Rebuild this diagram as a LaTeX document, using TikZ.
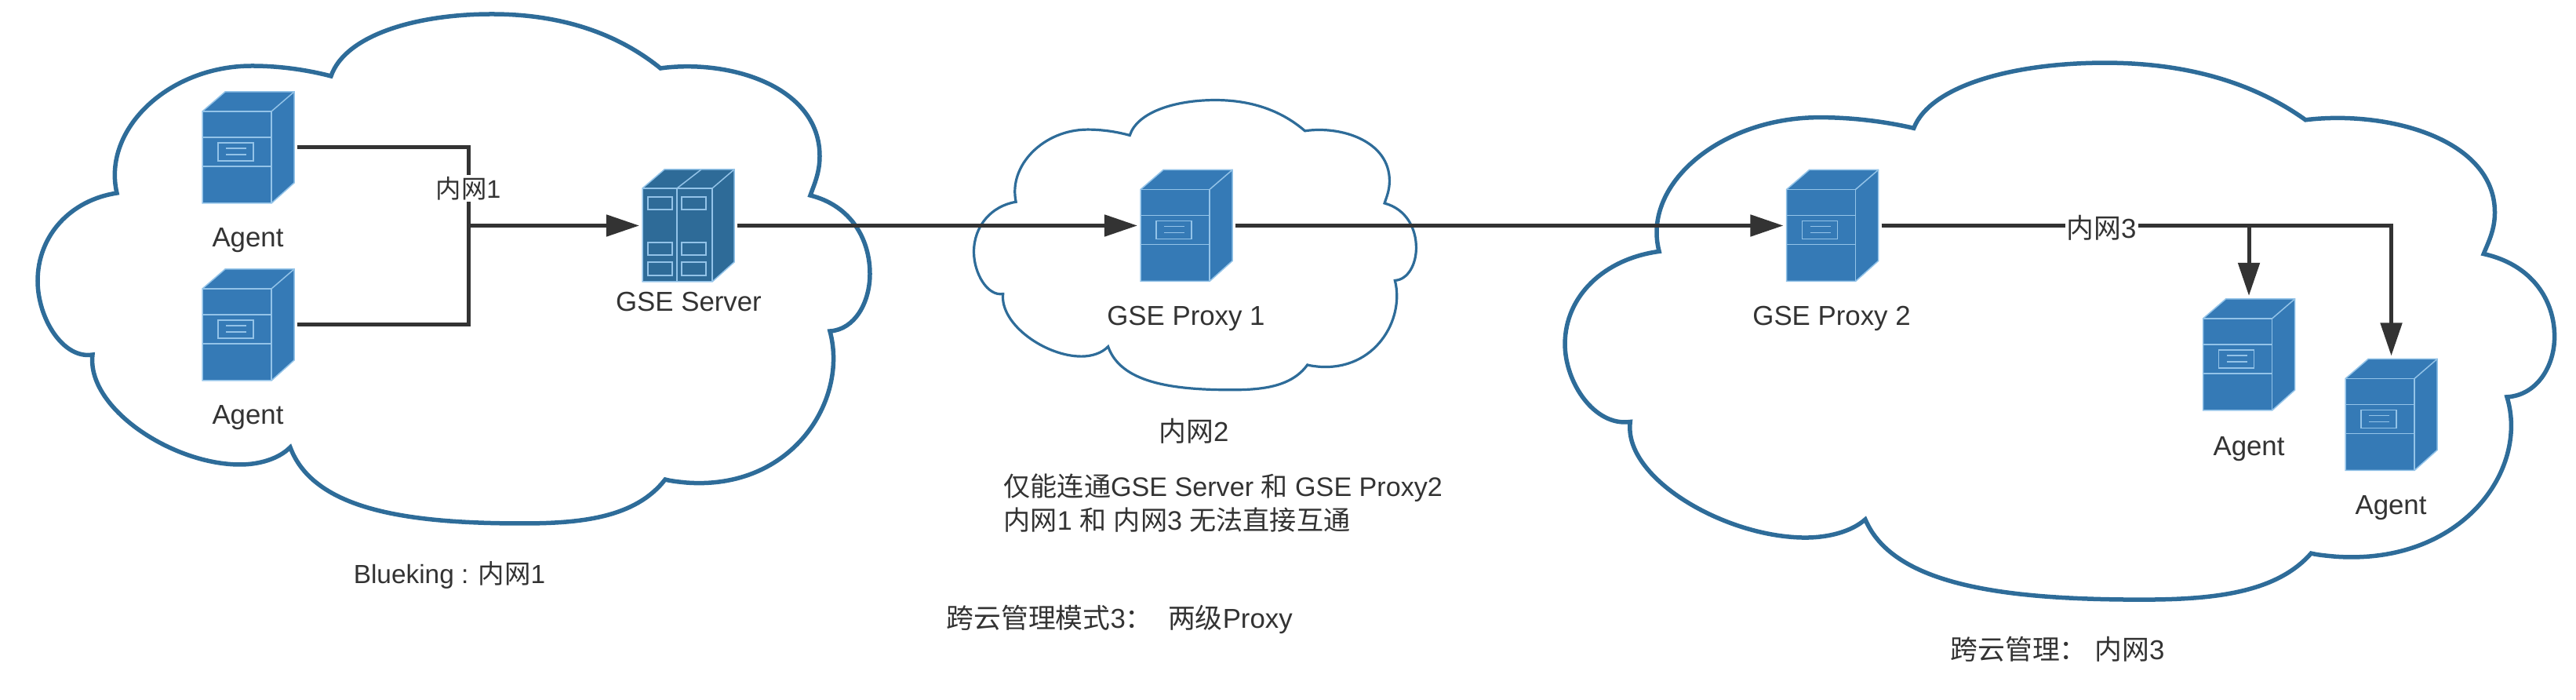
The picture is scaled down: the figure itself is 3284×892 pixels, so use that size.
\documentclass[tikz,border=0pt]{standalone}
\usepackage{fontspec}
\setmainfont{Liberation Sans}
\newfontfamily\cjk{Noto Sans CJK SC}
\usetikzlibrary{arrows.meta}

\definecolor{cloudblue}{HTML}{2E6C99}
\definecolor{agentblue}{HTML}{357AB6}
\definecolor{gseblue}{HTML}{2E6B98}
\definecolor{edgeblue}{HTML}{93C3E8}
\definecolor{wiregray}{HTML}{333333}

\newcommand{\cloudoutline}[1]{
 \draw[cloudline,#1] (422,97)
  .. controls (440,45) and (530,18) .. (627,18)
  .. controls (720,18) and (790,45) .. (842,87)
  .. controls (930,75) and (1045,110) .. (1045,199)
  .. controls (1045,220) and (1038,235) .. (1033,249)
  .. controls (1085,262) and (1109,305) .. (1109,349)
  .. controls (1109,385) and (1090,420) .. (1058,422)
  .. controls (1082,510) and (1010,625) .. (875,615)
  .. controls (865,614) and (855,613) .. (848,611)
  .. controls (810,660) and (740,667) .. (666,667)
  .. controls (520,667) and (400,650) .. (370,570)
  .. controls (355,585) and (330,592) .. (306,592)
  .. controls (220,592) and (110,520) .. (118,452)
  .. controls (80,458) and (48,405) .. (48,358)
  .. controls (48,300) and (90,255) .. (149,246)
  .. controls (130,165) and (215,84) .. (321,84)
  .. controls (360,84) and (395,90) .. (422,97) -- cycle;
}

\newcommand{\agentnode}[2]{
 \node[agentbox] (#1) at (#2) {};
 \begin{scope}[shift={(#2)},shift={(-58.5,-71)},draw=edgeblue,line width=0.015cm]
  \fill[agentblue] (0,25) -- (29,0) -- (117,0) -- (117,116) -- (88,142) -- (0,142) -- cycle;
  \draw (0,25) -- (29,0) -- (117,0) -- (117,116) -- (88,142) -- (0,142) -- cycle;
  \draw (0,25) -- (88,25) -- (88,142);
  \draw (88,25) -- (117,0);
  \draw (0,58) -- (88,58);
  \draw (0,95) -- (88,95);
  \draw (20,65) rectangle (65,88);
  \draw (30,72) -- (56,72);
  \draw (30,80) -- (56,80);
 \end{scope}
}

\newcommand{\gsenode}[2]{
 \node[gsebox] (#1) at (#2) {};
 \begin{scope}[shift={(#2)},shift={(-58.5,-71.5)},draw=edgeblue,line width=0.015cm]
  \fill[gseblue] (0,24) -- (28,0) -- (117,0) -- (117,118) -- (89,143) -- (0,143) -- cycle;
  \draw (0,24) -- (28,0) -- (117,0) -- (117,118) -- (89,143) -- (0,143) -- cycle;
  \draw (0,24) -- (89,24) -- (89,143);
  \draw (89,24) -- (117,0);
  \draw (44,24) -- (44,143);
  \draw (44,24) -- (75,0);
  \draw (7,35) rectangle (38,51);
  \draw (50,35) rectangle (81,51);
  \draw (7,93) rectangle (38,109);
  \draw (50,93) rectangle (81,109);
  \draw (7,118) rectangle (38,135);
  \draw (50,118) rectangle (81,135);
 \end{scope}
}

\tikzset{
 cloudline/.style={draw=cloudblue,line width=0.055cm},
 agentbox/.style={minimum width=1.17cm,minimum height=1.42cm,inner sep=0pt,outer sep=0.04cm},
 gsebox/.style={minimum width=1.17cm,minimum height=1.43cm,inner sep=0pt,outer sep=0.04cm},
 wire/.style={draw=wiregray,line width=0.05cm},
 tip/.style={wire,-{Triangle[length=0.42cm,width=0.27cm]}},
 caption/.style={text=wiregray,font=\fontsize{9.9}{12.2}\selectfont,inner sep=0pt,anchor=center},
 wirelabel/.style={caption,fill=white,inner sep=0.02cm}
}

\begin{document}
\begin{tikzpicture}[x=0.01cm,y=-0.01cm]
 \useasboundingbox (0,0) rectangle (3284,892);
 \fill[white] (0,0) rectangle (3284,892);

 \cloudoutline{}
 \cloudoutline{shift={(1216,117.3)},xscale=.5315,yscale=.569,line width=0.032cm}
 \cloudoutline{shift={(1938,61.1)},xscale=1.189,yscale=1.054}

 \agentnode{agentA}{316.5,188}
 \agentnode{agentB}{316.5,414}
 \gsenode{gse}{877.5,287.5}
 \agentnode{proxyA}{1512.5,287.5}
 \agentnode{proxyB}{2336,287.5}
 \agentnode{agentC}{2867,452}
 \agentnode{agentD}{3048.5,528.5}

 \coordinate (hub) at (597,287.5);

 \draw[wire] (agentA.east) -| (hub);
 \draw[wire] (agentB.east) -| (hub);
 \draw[tip] (hub) -- (gse.west);
 \draw[tip] (gse.east) -- (proxyA.west);
 \draw[tip] (proxyA.east) -- (proxyB.west);
 \draw[tip] (proxyB.east) -| (agentC.north);
 \draw[tip] (proxyB.east) -| (agentD.north);

 \node[wirelabel,font=\fontsize{9.2}{11}\selectfont] (netA) at (597,240) {{\cjk 内网}1};
 \node[wirelabel] (netC) at (2679,290) {{\cjk 内网}3};

 \node[caption] (textA) at (316,306) {Agent};
 \node[caption] (textB) at (316,532) {Agent};
 \node[caption] (textGse) at (878,385) {GSE Server};
 \node[caption,font=\fontsize{9.5}{12}\selectfont] (textBlue) at (573,733) {Blueking : {\cjk 内网}1};
 \node[caption] (textProxyA) at (1512,406) {GSE Proxy 1};
 \node[caption] (textNetB) at (1522,549) {{\cjk 内网}2};
 \node[caption,anchor=west,align=left,font=\fontsize{9.7}{12.2}\selectfont] (textNote) at (1279,641) {{\cjk 仅能连通}GSE Server {\cjk 和} GSE Proxy2\\{\cjk 内网}1 {\cjk 和} {\cjk 内网}3 {\cjk 无法直接互通}};
 \node[caption,anchor=west] (textMode) at (1206,789) {{\cjk 跨云管理模式}3{\cjk ：}\ \ {\cjk 两级}Proxy};
 \node[caption] (textProxyB) at (2335,406) {GSE Proxy 2};
 \node[caption] (textC) at (2867,572) {Agent};
 \node[caption] (textD) at (3048,647) {Agent};
 \node[caption] (textCross) at (2623,827) {{\cjk 跨云管理：} {\cjk 内网}3};
\end{tikzpicture}
\end{document}
